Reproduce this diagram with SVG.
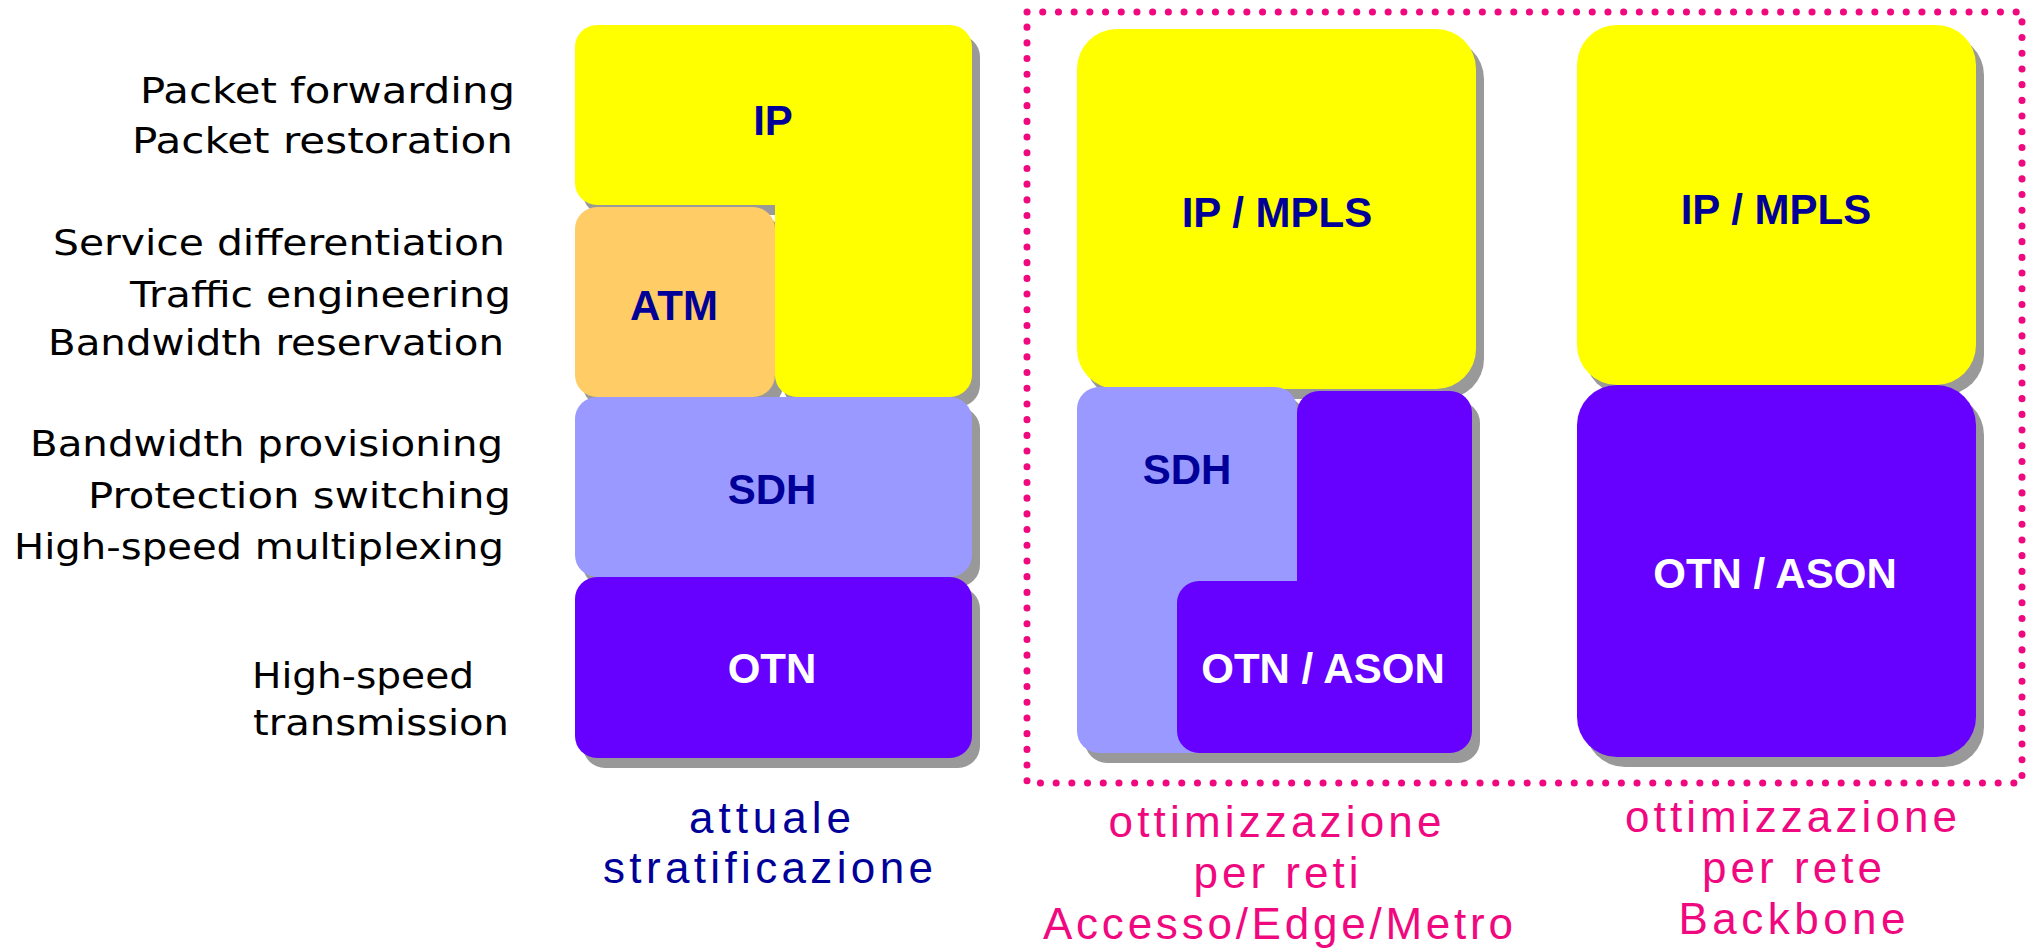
<svg xmlns="http://www.w3.org/2000/svg" width="2031" height="949" viewBox="0 0 2031 949">
<style>
.sh{fill:#999999}
.yel{fill:#FFFF00}
.atm{fill:#FFCC66}
.sdh{fill:#9999FF}
.otn{fill:#6600FF}
.lbl{font-family:"Liberation Sans",Arial,sans-serif;font-weight:bold;font-size:42px;text-anchor:middle}
.dk{fill:#000099}
.wh{fill:#FFFFFF}
.side{font-family:"DejaVu Sans",Verdana,sans-serif;font-size:36px;fill:#000000}
.cap{font-family:"Liberation Sans",Arial,sans-serif;font-size:44px;text-anchor:middle}
.blue{fill:#000099}
.pink{fill:#F0087F}
</style>
<rect width="2031" height="949" fill="#FFFFFF"/>

<g id="side-labels">
<text class="side" x="140" y="103" textLength="375" lengthAdjust="spacingAndGlyphs">Packet forwarding</text>
<text class="side" x="132" y="153" textLength="381" lengthAdjust="spacingAndGlyphs">Packet restoration</text>
<text class="side" x="53" y="255" textLength="452" lengthAdjust="spacingAndGlyphs">Service differentiation</text>
<text class="side" x="130" y="307" textLength="381" lengthAdjust="spacingAndGlyphs">Traffic engineering</text>
<text class="side" x="48" y="355" textLength="456" lengthAdjust="spacingAndGlyphs">Bandwidth reservation</text>
<text class="side" x="30" y="456" textLength="473" lengthAdjust="spacingAndGlyphs">Bandwidth provisioning</text>
<text class="side" x="88" y="508" textLength="423" lengthAdjust="spacingAndGlyphs">Protection switching</text>
<text class="side" x="14" y="559" textLength="490" lengthAdjust="spacingAndGlyphs">High-speed multiplexing</text>
<text class="side" x="252" y="688" textLength="222" lengthAdjust="spacingAndGlyphs">High-speed</text>
<text class="side" x="253" y="735" textLength="256" lengthAdjust="spacingAndGlyphs">transmission</text>
</g>

<g id="col1-shadows" transform="translate(8,10)">
<path class="sh" d="M597,25 H950 A22,22 0 0 1 972,47 V375 A22,22 0 0 1 950,397 H797 A22,22 0 0 1 775,375 V205 H597 A22,22 0 0 1 575,183 V47 A22,22 0 0 1 597,25 Z"/>
<rect class="sh" x="575" y="207" width="200" height="190" rx="22"/>
<rect class="sh" x="575" y="397" width="397" height="180" rx="22"/>
<rect class="sh" x="575" y="577" width="397" height="181" rx="22"/>
</g>
<g id="ip-left">
<path class="yel" d="M597,25 H950 A22,22 0 0 1 972,47 V375 A22,22 0 0 1 950,397 H797 A22,22 0 0 1 775,375 V205 H597 A22,22 0 0 1 575,183 V47 A22,22 0 0 1 597,25 Z"/>
<text class="lbl dk" x="773" y="135">IP</text>
</g>
<g id="atm-left">
<rect class="atm" x="575" y="207" width="200" height="190" rx="22"/>
<text class="lbl dk" x="674" y="320">ATM</text>
</g>
<g id="sdh-left">
<rect class="sdh" x="575" y="397" width="397" height="180" rx="22"/>
<text class="lbl dk" x="772" y="504">SDH</text>
</g>
<g id="otn-left">
<rect class="otn" x="575" y="577" width="397" height="181" rx="22"/>
<text class="lbl wh" x="772" y="683">OTN</text>
</g>

<g id="col2-shadows" transform="translate(8,10)">
<rect class="sh" x="1077" y="29" width="399" height="360" rx="40"/>
<rect class="sh" x="1077" y="387" width="220" height="366" rx="22"/>
<path class="sh" d="M1319,391 H1450 A22,22 0 0 1 1472,413 V731 A22,22 0 0 1 1450,753 H1199 A22,22 0 0 1 1177,731 V603 A22,22 0 0 1 1199,581 H1297 V413 A22,22 0 0 1 1319,391 Z"/>
</g>
<g id="ipmpls-mid">
<rect class="yel" x="1077" y="29" width="399" height="360" rx="40"/>
<text class="lbl dk" x="1277" y="227">IP / MPLS</text>
</g>
<g id="sdh-mid">
<rect class="sdh" x="1077" y="387" width="220" height="366" rx="22"/>
<text class="lbl dk" x="1187" y="484">SDH</text>
</g>
<g id="otnason-mid">
<path class="otn" d="M1319,391 H1450 A22,22 0 0 1 1472,413 V731 A22,22 0 0 1 1450,753 H1199 A22,22 0 0 1 1177,731 V603 A22,22 0 0 1 1199,581 H1297 V413 A22,22 0 0 1 1319,391 Z"/>
<text class="lbl wh" x="1323" y="683">OTN / ASON</text>
</g>

<g id="col3-shadows" transform="translate(8,10)">
<rect class="sh" x="1577" y="25" width="399" height="360" rx="40"/>
<rect class="sh" x="1577" y="385" width="399" height="372" rx="40"/>
</g>
<g id="ipmpls-right">
<rect class="yel" x="1577" y="25" width="399" height="360" rx="40"/>
<text class="lbl dk" x="1776" y="224">IP / MPLS</text>
</g>
<g id="otnason-right">
<rect class="otn" x="1577" y="385" width="399" height="372" rx="40"/>
<text class="lbl wh" x="1775" y="588">OTN / ASON</text>
</g>

<g id="connectors">
<rect x="1027" y="12" width="995" height="771" fill="none" stroke="#F0087F" stroke-width="7" stroke-linecap="round" stroke-dasharray="0.1 15.6"/>
</g>

<g id="captions">
<text class="cap blue" x="770" y="833" textLength="162">attuale</text>
<text class="cap blue" x="768" y="883" textLength="330">stratificazione</text>
<text class="cap pink" x="1275" y="837" textLength="333">ottimizzazione</text>
<text class="cap pink" x="1276" y="888" textLength="165">per reti</text>
<text class="cap pink" x="1278" y="939" textLength="470">Accesso/Edge/Metro</text>
<text class="cap pink" x="1791" y="832" textLength="332">ottimizzazione</text>
<text class="cap pink" x="1792" y="883" textLength="180">per rete</text>
<text class="cap pink" x="1792" y="934" textLength="227">Backbone</text>
</g>
</svg>
